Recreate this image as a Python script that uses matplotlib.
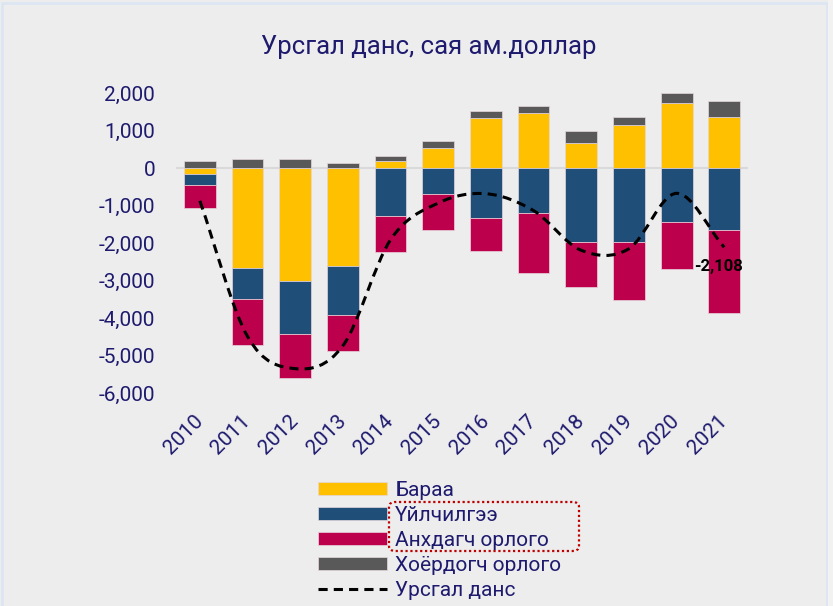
import numpy as np
import matplotlib
matplotlib.use('Agg')
import matplotlib.pyplot as plt
from matplotlib.path import Path
from matplotlib.patches import PathPatch, Rectangle, FancyBboxPatch
from matplotlib.lines import Line2D

plt.rcParams['font.family'] = ['Roboto', 'DejaVu Sans']

years = ['2010', '2011', '2012', '2013', '2014', '2015',
	'2016', '2017', '2018', '2019', '2020', '2021']
goods = [-150, -2650, -3000, -2610, 180, 550, 1330, 1480, 670, 1150, 1750, 1360]
services = [-300, -830, -1430, -1300, -1270, -690, -1320, -1190, -1960, -1960, -1430, -1640]
primary_income = [-600, -1250, -1160, -960, -960, -970, -900, -1600, -1220, -1570, -1250, -2230]
secondary_income = [180, 240, 240, 130, 140, 180, 210, 180, 320, 230, 260, 430]
current_account = [-870, -4490, -5350, -4740, -1910, -930, -680, -1130, -2190, -2150, -670, -2108]

series_names = ['Бараа', 'Үйлчилгээ', 'Анхдагч орлого', 'Хоёрдогч орлого']
series_colors = ['#FFC000', '#1F4E79', '#BC004B', '#595959']
line_name = 'Урсгал данс'
title = 'Урсгал данс, сая ам.доллар'
navy = '#1E1A6E'
bg = '#EDEDED'

fig = plt.figure(figsize=(8.33, 6.06), dpi=100, facecolor=bg)
ax = fig.add_axes([0.2113, 0.3515, 0.6867, 0.4945])
ax.set_facecolor(bg)

x = np.arange(len(years))
pos_bottom = np.zeros(len(years))
neg_bottom = np.zeros(len(years))
bars = []
for vals, color in zip([goods, services, primary_income, secondary_income], series_colors):
	vals = np.array(vals, dtype=float)
	bottom = np.where(vals >= 0, pos_bottom, neg_bottom)
	b = ax.bar(x, vals, bottom=bottom, width=0.67, color=color,
		edgecolor='#E6D6DC', linewidth=0.5, zorder=2)
	bars.append(b)
	pos_bottom = pos_bottom + np.where(vals >= 0, vals, 0)
	neg_bottom = neg_bottom + np.where(vals < 0, vals, 0)

ax.axhline(0, color='#D9D9D9', linewidth=1.5, zorder=1)

# smoothed line like the excel one (bezier through the points)
y = np.array(current_account, dtype=float)
pts = np.column_stack([x, y])
tang = np.zeros_like(pts)
tang[1:-1] = (pts[2:] - pts[:-2]) / 2
tang[0] = pts[1] - pts[0]
tang[-1] = pts[-1] - pts[-2]
verts = [pts[0]]
codes = [Path.MOVETO]
for i in range(len(pts) - 1):
	verts += [pts[i] + tang[i] / 3, pts[i + 1] - tang[i + 1] / 3, pts[i + 1]]
	codes += [Path.CURVE4] * 3
curve = PathPatch(Path(verts, codes), facecolor='none', edgecolor='black',
	linewidth=2.2, linestyle=(0, (3, 2)), zorder=3)
ax.add_patch(curve)

ax.annotate(f'{current_account[-1]:,}', xy=(x[-1], current_account[-1]),
	xytext=(-4, -14), textcoords='offset points', ha='center', va='center',
	fontsize=12, fontweight='bold', color='black', zorder=4)

ax.set_xlim(-0.5, len(years) - 0.5)
ax.set_ylim(-6000, 2000)
ax.set_yticks(np.arange(-6000, 2001, 1000))
ax.set_yticklabels([f'{v:,}' for v in np.arange(-6000, 2001, 1000)])
ax.set_xticks(x)
ax.set_xticklabels(years, rotation=45, ha='right', va='center', rotation_mode='anchor')
ax.tick_params(axis='both', length=0, labelsize=15, labelcolor=navy)
ax.tick_params(axis='y', pad=15)
ax.tick_params(axis='x', pad=18)
for s in ax.spines.values():
	s.set_visible(False)

fig.text(0.515, 0.922, title, ha='center', va='center', fontsize=18.5, color=navy)

line_handle = Line2D([], [], color='black', linewidth=2.2, linestyle=(0, (3, 2)))
leg = fig.legend([b for b in bars] + [line_handle], series_names + [line_name],
	loc='upper left', bbox_to_anchor=(0.3816, 0.2067), frameon=False,
	fontsize=15, handlelength=3.3, handleheight=0.58, handletextpad=0.4,
	labelspacing=0.29, borderpad=0, borderaxespad=0)
for t in leg.get_texts():
	t.set_color(navy)

fig.patches.append(FancyBboxPatch((389 / 833, 1 - 551 / 606), 190 / 833, 49 / 606,
	boxstyle='round,pad=0,rounding_size=0.008', transform=fig.transFigure,
	facecolor='none', edgecolor='#C00000', linewidth=1.6, linestyle=(0, (1, 1.2))))
fig.patches.append(Rectangle((2 / 833, -0.01), 825 / 833, 1.005, transform=fig.transFigure,
	facecolor='none', edgecolor='#DCE6F2', linewidth=2))
fig.patches.append(Rectangle((828 / 833, 0), 5 / 833, 1, transform=fig.transFigure,
	facecolor='#F2F2F2', edgecolor='none'))

fig.savefig('out.png', dpi=100, facecolor=bg)
